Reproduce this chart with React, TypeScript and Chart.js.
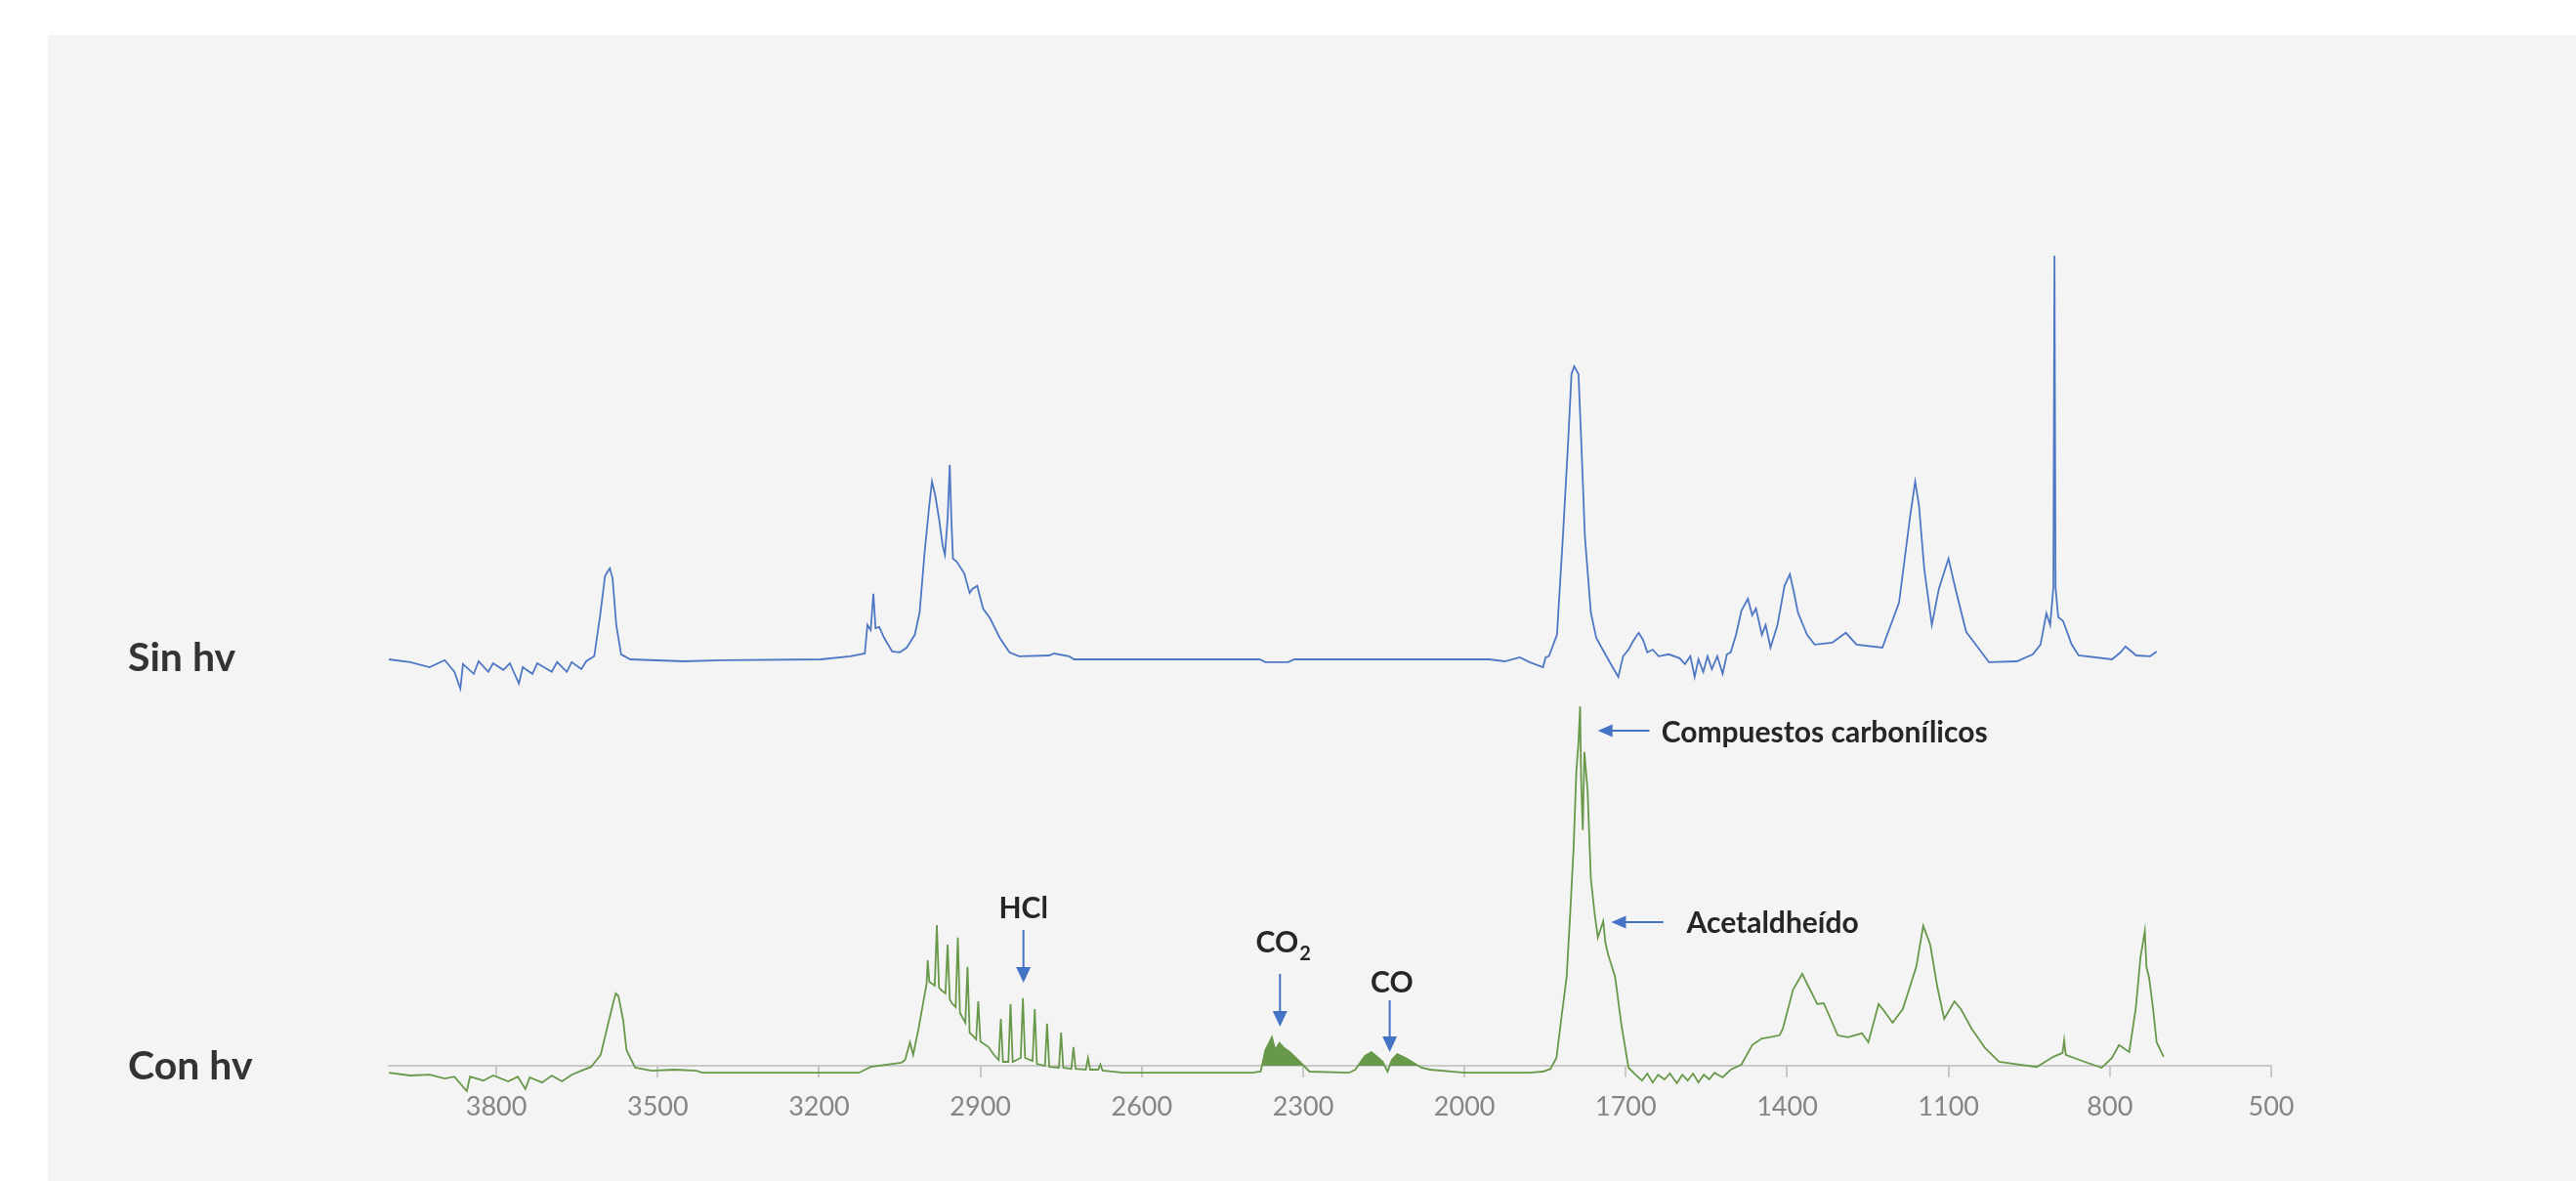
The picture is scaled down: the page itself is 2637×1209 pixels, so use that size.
import { useEffect, useRef } from 'react';
import { Chart, registerables } from 'chart.js';

Chart.register(...registerables);

// ---- Axis ----
const xTicks = [3800, 3500, 3200, 2900, 2600, 2300, 2000, 1700, 1400, 1100, 800, 500];

// ---- "Sin hv" spectrum (wavenumber, plotted absorbance incl. offset) ----
const sinHvWn = [
  4000, 3960, 3924, 3896, 3878, 3867, 3862, 3842, 3833, 3815, 3806, 3787, 3775, 3758, 3751, 3733, 3724, 3697, 3687, 3669,
  3660, 3642, 3633, 3618, 3607, 3598, 3593, 3589, 3584, 3577, 3568, 3551, 3451, 3379, 3197, 3142, 3115, 3110, 3104, 3099,
  3095, 3088, 3079, 3064, 3050, 3037, 3022, 3013, 3004, 2995, 2990, 2984, 2977, 2970, 2966, 2961, 2957, 2954, 2951, 2944,
  2930, 2920, 2915, 2906, 2895, 2882, 2864, 2846, 2828, 2772, 2763, 2735, 2726, 2381, 2370, 2328, 2316, 1954, 1925, 1897,
  1879, 1854, 1849, 1843, 1828, 1817, 1807, 1801, 1796, 1788, 1783, 1776, 1765, 1755, 1745, 1730, 1714, 1705, 1695, 1685,
  1676, 1668, 1660, 1650, 1639, 1620, 1600, 1590, 1580, 1572, 1565, 1556, 1548, 1540, 1530, 1520, 1512, 1505, 1495, 1485,
  1473, 1465, 1458, 1447, 1440, 1431, 1418, 1405, 1395, 1388, 1380, 1363, 1349, 1316, 1291, 1271, 1223, 1192, 1171, 1162,
  1155, 1145, 1131, 1118, 1100, 1087, 1067, 1045, 1025, 973, 943, 929, 918, 911, 905, 903, 901, 896, 887, 871,
  858, 796, 780, 771, 751, 725, 713,
];
const sinHvAbs = [
  1.040, 1.033, 1.020, 1.038, 1.008, 0.965, 1.028, 1.003, 1.035, 1.008, 1.030, 1.013, 1.030, 0.978, 1.020, 1.003, 1.030, 1.008, 1.033, 1.008,
  1.033, 1.015, 1.035, 1.048, 1.153, 1.253, 1.265, 1.273, 1.248, 1.128, 1.053, 1.040, 1.035, 1.038, 1.040, 1.048, 1.055, 1.128, 1.115, 1.208,
  1.120, 1.123, 1.095, 1.060, 1.058, 1.070, 1.103, 1.160, 1.310, 1.435, 1.495, 1.460, 1.400, 1.330, 1.308, 1.400, 1.538, 1.400, 1.298, 1.290,
  1.260, 1.210, 1.220, 1.228, 1.170, 1.145, 1.095, 1.058, 1.048, 1.050, 1.055, 1.048, 1.040, 1.040, 1.033, 1.033, 1.040, 1.040, 1.035, 1.045,
  1.033, 1.020, 1.045, 1.048, 1.103, 1.353, 1.603, 1.770, 1.790, 1.770, 1.603, 1.353, 1.160, 1.095, 1.070, 1.033, 0.995, 1.048, 1.065, 1.090,
  1.108, 1.090, 1.058, 1.065, 1.048, 1.053, 1.043, 1.028, 1.048, 0.995, 1.040, 1.008, 1.048, 1.015, 1.048, 1.003, 1.053, 1.058, 1.103, 1.165,
  1.195, 1.153, 1.170, 1.103, 1.128, 1.070, 1.128, 1.228, 1.258, 1.215, 1.160, 1.103, 1.078, 1.083, 1.108, 1.078, 1.070, 1.185, 1.410, 1.495,
  1.435, 1.270, 1.128, 1.220, 1.298, 1.220, 1.110, 1.070, 1.033, 1.035, 1.053, 1.078, 1.158, 1.128, 1.225, 2.073, 1.225, 1.148, 1.138, 1.078,
  1.050, 1.040, 1.058, 1.073, 1.050, 1.048, 1.060,
];

// ---- "Con hv" spectrum ----
const conHvWn = [
  4000, 3960, 3924, 3896, 3878, 3855, 3849, 3824, 3806, 3778, 3760, 3746, 3738, 3715, 3697, 3678, 3660, 3642, 3624, 3606,
  3593, 3582, 3578, 3573, 3564, 3558, 3542, 3511, 3469, 3428, 3417, 3126, 3104, 3047, 3040, 3031, 3025, 3015, 3000, 2998,
  2995, 2990, 2985, 2981, 2977, 2974, 2965, 2961, 2957, 2953, 2946, 2942, 2938, 2928, 2924, 2920, 2908, 2904, 2900, 2885,
  2875, 2866, 2862, 2858, 2848, 2844, 2840, 2825, 2821, 2817, 2803, 2799, 2795, 2780, 2776, 2772, 2754, 2750, 2746, 2731,
  2727, 2723, 2704, 2700, 2696, 2681, 2677, 2673, 2635, 2395, 2379, 2370, 2358, 2352, 2344, 2335, 2325, 2306, 2288, 2215,
  2203, 2185, 2173, 2160, 2152, 2143, 2135, 2125, 2110, 2100, 2080, 2064, 2000, 1880, 1854, 1840, 1829, 1820, 1810, 1803,
  1797, 1792, 1788, 1785, 1783, 1780, 1777, 1774, 1771, 1765, 1758, 1752, 1746, 1742, 1738, 1733, 1720, 1708, 1695, 1682,
  1670, 1660, 1650, 1640, 1628, 1618, 1605, 1595, 1585, 1575, 1565, 1555, 1545, 1535, 1520, 1505, 1485, 1465, 1447, 1433,
  1414, 1408, 1389, 1372, 1363, 1344, 1332, 1306, 1287, 1261, 1249, 1230, 1217, 1204, 1185, 1160, 1147, 1134, 1121, 1108,
  1089, 1077, 1057, 1032, 1006, 968, 936, 905, 888, 885, 882, 847, 815, 796, 783, 764, 752, 743, 735, 732,
  727, 720, 713, 700,
];
const conHvAbs = [
  -0.018, -0.025, -0.023, -0.033, -0.028, -0.065, -0.028, -0.038, -0.025, -0.040, -0.028, -0.060, -0.030, -0.043, -0.025, -0.040, -0.023, -0.013, -0.003, 0.028,
  0.103, 0.165, 0.185, 0.178, 0.115, 0.040, -0.005, -0.013, -0.010, -0.013, -0.018, -0.018, -0.003, 0.008, 0.015, 0.060, 0.028, 0.095, 0.210, 0.270,
  0.215, 0.210, 0.205, 0.360, 0.200, 0.195, 0.185, 0.310, 0.170, 0.160, 0.150, 0.328, 0.135, 0.110, 0.253, 0.085, 0.068, 0.165, 0.062, 0.048,
  0.028, 0.015, 0.120, 0.010, 0.010, 0.158, 0.010, 0.020, 0.173, 0.020, 0.012, 0.145, 0.005, 0.000, 0.108, -0.003, -0.005, 0.085, -0.005, -0.008,
  0.048, -0.008, -0.010, 0.020, -0.010, -0.010, 0.003, -0.012, -0.018, -0.018, -0.015, 0.040, 0.073, 0.040, 0.058, 0.045, 0.035, 0.010, -0.015, -0.018,
  -0.010, 0.025, 0.035, 0.020, 0.010, -0.015, 0.015, 0.030, 0.020, 0.012, -0.005, -0.010, -0.018, -0.018, -0.015, -0.008, 0.020, 0.120, 0.228, 0.400,
  0.560, 0.753, 0.828, 0.920, 0.728, 0.603, 0.803, 0.753, 0.703, 0.478, 0.390, 0.328, 0.353, 0.370, 0.315, 0.285, 0.228, 0.103, -0.005, -0.023,
  -0.038, -0.020, -0.043, -0.023, -0.035, -0.020, -0.045, -0.023, -0.038, -0.020, -0.043, -0.023, -0.035, -0.018, -0.030, -0.010, 0.003, 0.053, 0.070, 0.073,
  0.078, 0.095, 0.195, 0.235, 0.210, 0.158, 0.160, 0.078, 0.073, 0.083, 0.060, 0.158, 0.135, 0.110, 0.145, 0.253, 0.358, 0.310, 0.203, 0.120,
  0.165, 0.145, 0.095, 0.045, 0.010, 0.003, -0.003, 0.023, 0.033, 0.065, 0.028, 0.010, -0.005, 0.020, 0.053, 0.035, 0.145, 0.278, 0.345, 0.253,
  0.225, 0.150, 0.060, 0.023,
];

// Dense rotational gas bands (drawn filled), ranges in wavenumber
const gasBandRanges = [
  [2379, 2288], // CO2
  [2203, 2064], // CO
];
const conHvBaseline = -0.018;

// ---- Labels & annotations (data coordinates) ----
const seriesLabels = [
  { text: 'Sin hv', y: 1.01 },
  { text: 'Con hv', y: -0.035 },
];
const notes = [
  { text: 'HCl', sub: '', x: 2820, y: 0.3775, align: 'center' },
  { text: 'CO', sub: '2', x: 2388, y: 0.29, align: 'left' },
  { text: 'CO', sub: '', x: 2135, y: 0.1875, align: 'center' },
  { text: 'Compuestos carbonílicos', sub: '', x: 1634, y: 0.8275, align: 'left' },
  { text: 'Acetaldheído', sub: '', x: 1587, y: 0.34, align: 'left' },
];
const downArrows = [
  { x: 2820, from: 0.3475, to: 0.2125 },
  { x: 2343, from: 0.235, to: 0.1 },
  { x: 2139, from: 0.1675, to: 0.035 },
];
const leftArrows = [
  { y: 0.8575, from: 1656, to: 1752 },
  { y: 0.3675, from: 1630, to: 1727 },
];

const BLUE = '#4f78c4';
const GREEN = '#68994a';
const ARROW = '#4472c4';
const TEXT = '#262626';

const toPoints = (wn: number[], ab: number[]) => wn.map((w, i) => ({ x: w, y: ab[i] }));

const annotationPlugin = {
  id: 'spectraAnnotations',
  afterDatasetsDraw(chart: any) {
    const { ctx } = chart;
    const xs = chart.scales.x;
    const ys = chart.scales.y;
    ctx.save();
    // Series labels, left of plot
    ctx.fillStyle = '#333333';
    ctx.font = 'bold 41px Lato';
    ctx.textAlign = 'left';
    ctx.textBaseline = 'alphabetic';
    for (const l of seriesLabels) {
      ctx.fillText(l.text, 131, ys.getPixelForValue(l.y));
    }
    // Notes
    for (const n of notes) {
      ctx.fillStyle = TEXT;
      ctx.font = 'bold 30px Lato';
      ctx.textAlign = n.align as CanvasTextAlign;
      const px = xs.getPixelForValue(n.x);
      const py = ys.getPixelForValue(n.y);
      ctx.fillText(n.text, px, py);
      if (n.sub) {
        const w = ctx.measureText(n.text).width;
        ctx.font = 'bold 20px Lato';
        ctx.textAlign = 'left';
        ctx.fillText(n.sub, px + w + 1, py + 8);
      }
    }
    // Arrows
    ctx.strokeStyle = ARROW;
    ctx.fillStyle = ARROW;
    ctx.lineWidth = 2;
    for (const a of downArrows) {
      const px = xs.getPixelForValue(a.x);
      const y1 = ys.getPixelForValue(a.from);
      const y2 = ys.getPixelForValue(a.to);
      ctx.beginPath();
      ctx.moveTo(px, y1);
      ctx.lineTo(px, y2 - 12);
      ctx.stroke();
      ctx.beginPath();
      ctx.moveTo(px - 7.5, y2 - 16);
      ctx.lineTo(px + 7.5, y2 - 16);
      ctx.lineTo(px, y2);
      ctx.closePath();
      ctx.fill();
    }
    for (const a of leftArrows) {
      const py = ys.getPixelForValue(a.y);
      const x1 = xs.getPixelForValue(a.from);
      const x2 = xs.getPixelForValue(a.to);
      ctx.beginPath();
      ctx.moveTo(x1, py);
      ctx.lineTo(x2 + 12, py);
      ctx.stroke();
      ctx.beginPath();
      ctx.moveTo(x2 + 15, py - 6.5);
      ctx.lineTo(x2 + 15, py + 6.5);
      ctx.lineTo(x2, py);
      ctx.closePath();
      ctx.fill();
    }
    ctx.restore();
  },
};

export default function App() {
  const canvasRef = useRef<HTMLCanvasElement | null>(null);

  useEffect(() => {
    const prevMargin = document.body.style.margin;
    document.body.style.margin = '0';
    const canvas = canvasRef.current;
    if (!canvas) return;

    const sinPts = toPoints(sinHvWn, sinHvAbs);
    const conPts = toPoints(conHvWn, conHvAbs);
    const bandSets = gasBandRanges.map((r) => ({
      data: conPts.filter((p) => p.x <= r[0] && p.x >= r[1]),
      borderColor: GREEN,
      backgroundColor: GREEN,
      borderWidth: 1,
      fill: { value: conHvBaseline },
      pointRadius: 0,
      clip: false as any,
      order: 3,
    }));

    const chart = new Chart(canvas, {
      type: 'line',
      data: {
        datasets: [
          {
            label: 'Sin hv',
            data: sinPts,
            borderColor: BLUE,
            borderWidth: 1.8,
            pointRadius: 0,
            fill: false,
            clip: false as any,
            order: 2,
          },
          {
            label: 'Con hv',
            data: conPts,
            borderColor: GREEN,
            borderWidth: 1.8,
            pointRadius: 0,
            fill: false,
            clip: false as any,
            order: 1,
          },
          ...bandSets,
        ] as any,
      },
      options: {
        responsive: false,
        animation: false,
        devicePixelRatio: 1,
        layout: { padding: { left: 398, right: 312, top: 91, bottom: 58 } },
        plugins: {
          legend: { display: false },
          tooltip: { enabled: false },
        },
        elements: { line: { tension: 0 }, point: { radius: 0 } },
        scales: {
          x: {
            type: 'linear',
            min: 500,
            max: 4000,
            reverse: true,
            afterBuildTicks: (s: any) => {
              s.ticks = xTicks.map((v) => ({ value: v }));
            },
            afterFit: (s: any) => {
              s.height = 60;
            },
            grid: {
              drawOnChartArea: false,
              drawTicks: true,
              tickLength: 12,
              color: '#c9c9c9',
              lineWidth: 2,
            },
            border: { display: true, color: '#c9c9c9', width: 2 },
            ticks: {
              color: '#858585',
              font: { family: 'Lato', size: 27 },
              padding: 14,
              maxRotation: 0,
              autoSkip: false,
              callback: (v: any) => String(v),
            },
          },
          y: { display: false, min: 0, max: 2.5 },
        },
      } as any,
      plugins: [annotationPlugin],
    });

    return () => {
      chart.destroy();
      document.body.style.margin = prevMargin;
    };
  }, []);

  return (
    <div style={{ position: 'relative', width: 2637, height: 1209, background: '#ffffff', overflow: 'hidden' }}>
      <div style={{ position: 'absolute', left: 49, top: 36, right: 0, bottom: 0, background: '#f4f4f4' }} />
      <canvas
        ref={canvasRef}
        width={2637}
        height={1209}
        style={{ position: 'absolute', left: 0, top: 0, width: 2637, height: 1209 }}
      />
    </div>
  );
}
